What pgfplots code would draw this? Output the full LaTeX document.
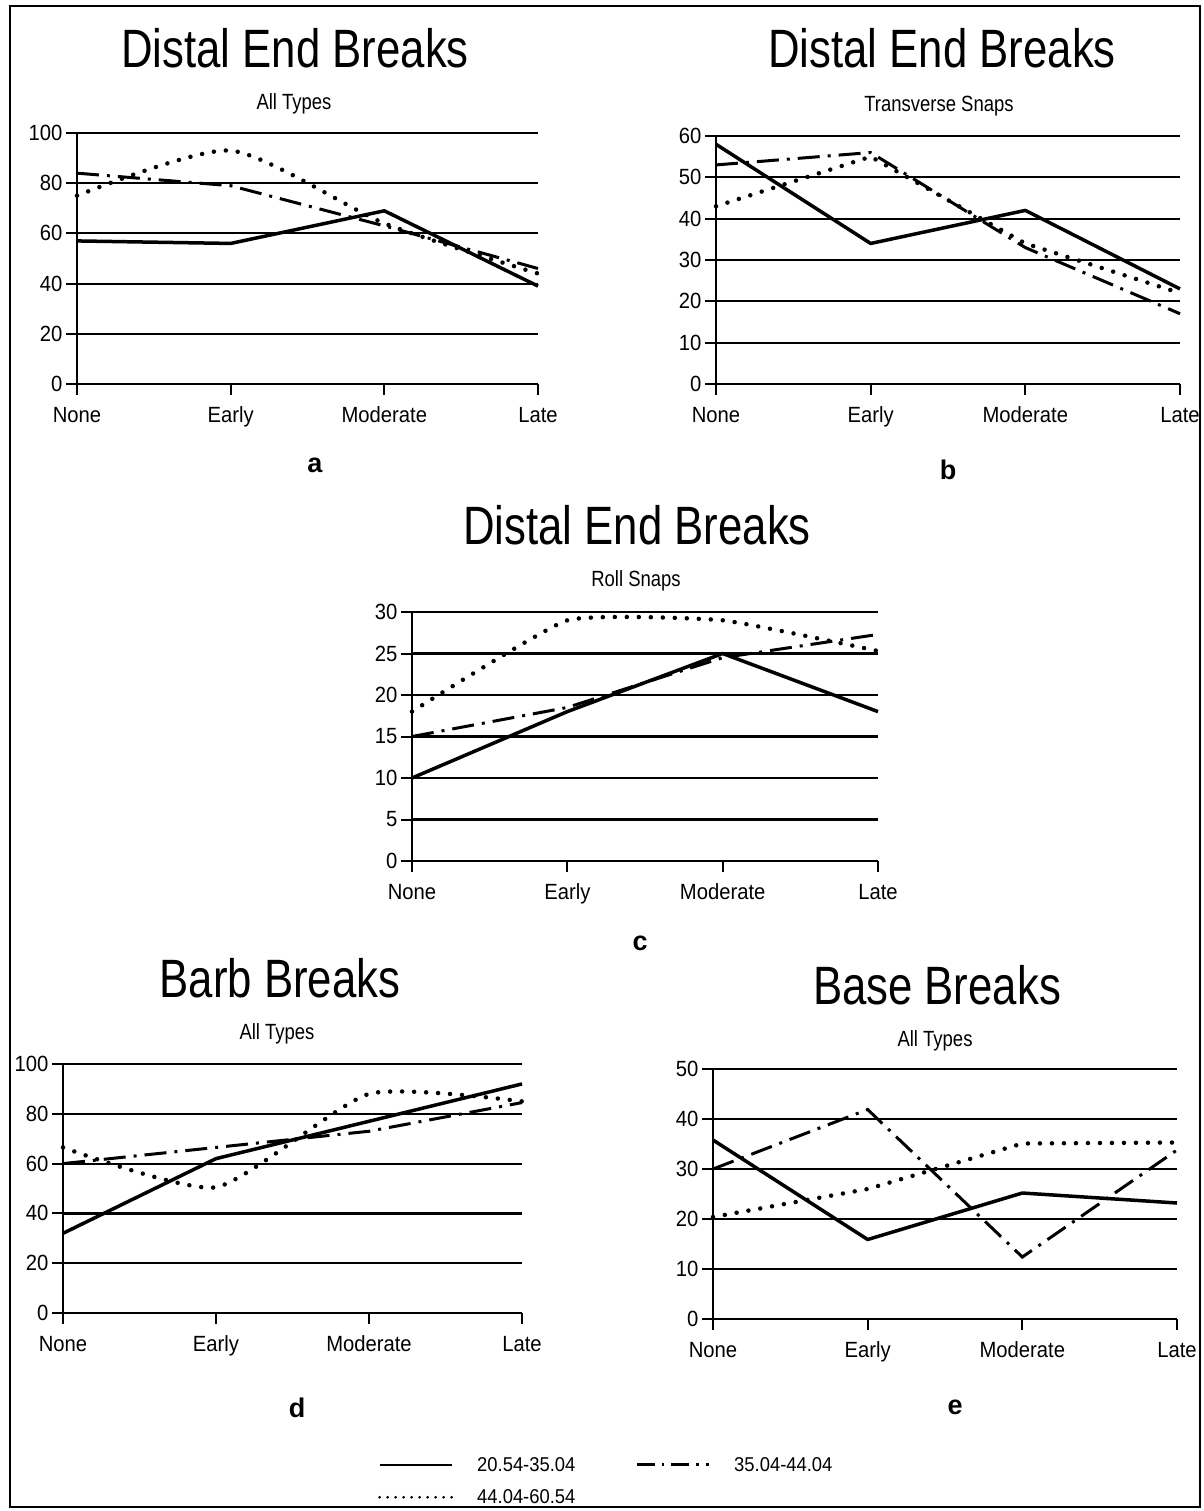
\documentclass[border=0pt]{standalone}
\usepackage{fontspec}
\setmainfont{Liberation Sans}
\newfontfamily\titlefont[FakeStretch=0.81]{Liberation Sans}
\newfontfamily\subfont[FakeStretch=0.84]{Liberation Sans}
\newfontfamily\tickfont[FakeStretch=0.92]{Liberation Sans}
\usepackage{pgfplots}
\pgfplotsset{compat=1.18}
\pgfplotsset{
  panel/.style={
    scale only axis, axis lines=left, axis line style={-, line width=2pt},
    xmin=0, xmax=3, xtick={0,1,2,3}, xticklabels={None,Early,Moderate,Late},
    ymajorgrids, grid style={line width=2.2pt, black},
    major tick length=11pt, tick align=outside, tick style={line width=2pt, black},
    ticklabel style={font=\tickfont\fontsize{22}{22}\selectfont},
    xticklabel style={anchor=base, yshift=-27pt},
    /pgf/number format/assume math mode=true,
    clip=false, enlargelimits=false,
  },
  s1/.style={line width=3.5pt, black, line join=round},
  s2/.style={line width=3pt, black, dash pattern=on 22pt off 8pt on 3pt off 8pt},
  s3/.style={line width=4.5pt, black, line cap=round, dash pattern=on 0pt off 12pt},
}
\begin{document}
\begin{tikzpicture}
\path (0pt,0pt) rectangle (1203pt,-1511pt);
\draw[line width=2.5pt] (10pt,-6pt) rectangle (1200pt,-1507pt);

% ---------- a
\begin{axis}[panel, at={(77pt,-384pt)}, anchor=south west, width=461pt, height=251pt,
  ymin=0, ymax=100, ytick={0,20,...,100}]
\addplot[s1] coordinates {(0,57) (1,56) (2,69) (3,39)};
\addplot[s2] coordinates {(0,84) (1,79) (2,63) (3,46)};
\addplot[s3, smooth, tension=0.4] coordinates {(0,75) (1,93) (2,64) (3,44)};
\end{axis}
\node[font=\titlefont\fontsize{54}{54}\selectfont] at (295pt,-48pt) {Distal End Breaks};
\node[font=\subfont\fontsize{22}{22}\selectfont] at (294pt,-104pt) {All Types};
\node[font=\bfseries\fontsize{27}{27}\selectfont] at (315pt,-465pt) {a};

% ---------- b
\begin{axis}[panel, at={(716pt,-384pt)}, anchor=south west, width=464pt, height=248pt,
  ymin=0, ymax=60, ytick={0,10,...,60}]
\addplot[s1] coordinates {(0,58) (1,34) (2,42) (3,23)};
\addplot[s2] coordinates {(0,53) (1,56) (2,33) (3,17)};
\addplot[s3] coordinates {(0,43) (1,55) (2,34) (3,22)};
\end{axis}
\node[font=\titlefont\fontsize{54}{54}\selectfont] at (942pt,-48pt) {Distal End Breaks};
\node[font=\subfont\fontsize{22}{22}\selectfont] at (939pt,-106pt) {Transverse Snaps};
\node[font=\bfseries\fontsize{27}{27}\selectfont] at (948pt,-470pt) {b};

% ---------- c
\begin{axis}[panel, at={(412pt,-861pt)}, anchor=south west, width=466pt, height=249pt,
  ymin=0, ymax=30, ytick={0,5,...,30}]
\addplot[s1] coordinates {(0,10) (1,18) (2,25) (3,18)};
\addplot[s2] coordinates {(0,15) (1,18.5) (2,24.5) (3,27.3)};
\addplot[s3, smooth, tension=0.25] coordinates {(0,18) (1,29) (2,29) (3,25.3)};
\end{axis}
\node[font=\titlefont\fontsize{54}{54}\selectfont] at (637pt,-525pt) {Distal End Breaks};
\node[font=\subfont\fontsize{22}{22}\selectfont] at (636pt,-581pt) {Roll Snaps};
\node[font=\bfseries\fontsize{27}{27}\selectfont] at (640pt,-943pt) {c};

% ---------- d
\begin{axis}[panel, at={(63pt,-1313pt)}, anchor=south west, width=459pt, height=249pt,
  ymin=0, ymax=100, ytick={0,20,...,100}]
\addplot[s1] coordinates {(0,32) (1,62) (2,77) (3,92)};
\addplot[s2] coordinates {(0,60) (1,66.5) (2,73) (3,84.5)};
\addplot[s3, smooth, tension=0.35] coordinates {(0,66.5) (1,50.5) (2,88) (3,85)};
\end{axis}
\node[font=\titlefont\fontsize{54}{54}\selectfont] at (280pt,-978pt) {Barb Breaks};
\node[font=\subfont\fontsize{22}{22}\selectfont] at (277pt,-1034pt) {All Types};
\node[font=\bfseries\fontsize{27}{27}\selectfont] at (297pt,-1408pt) {d};

% ---------- e
\begin{axis}[panel, at={(713pt,-1319pt)}, anchor=south west, width=464pt, height=250pt,
  ymin=0, ymax=50, ytick={0,10,...,50}]
\addplot[s1] coordinates {(0,35.8) (1,15.9) (2,25.2) (3,23.2)};
\addplot[s2] coordinates {(0,30) (1,41.9) (2,12.4) (3,33.8)};
\addplot[s3] coordinates {(0,20.4) (1,26) (2,35.1) (3,35.3)};
\end{axis}
\node[font=\titlefont\fontsize{54}{54}\selectfont] at (937pt,-985pt) {Base Breaks};
\node[font=\subfont\fontsize{22}{22}\selectfont] at (935pt,-1041pt) {All Types};
\node[font=\bfseries\fontsize{27}{27}\selectfont] at (955pt,-1407pt) {e};

% ---------- legend
\begin{axis}[at={(383pt,-1476pt)}, anchor=center, hide axis, scale only axis,
  width=10pt, height=10pt, xmin=0, xmax=1, ymin=0, ymax=1,
  legend columns=2,
  legend image code/.code={\draw[#1] (0pt,0pt) -- (72pt,0pt);},
  legend style={at={(0,0)}, anchor=west, draw=none, fill=none,
    font=\tickfont\fontsize{20}{20}\selectfont,
    /tikz/every even column/.append style={column sep=36pt},
    row sep=13pt, inner sep=0pt,
    nodes={inner xsep=24pt}}]
\addlegendimage{line width=2.5pt, black}
\addlegendentry{20.54-35.04}
\addlegendimage{line width=2.8pt, black, dash pattern=on 18pt off 7pt on 2.5pt off 7pt}
\addlegendentry{35.04-44.04}
\addlegendimage{line width=3pt, black, line cap=round, dash pattern=on 0pt off 8pt}
\addlegendentry{44.04-60.54}
\end{axis}
\end{tikzpicture}
\end{document}
